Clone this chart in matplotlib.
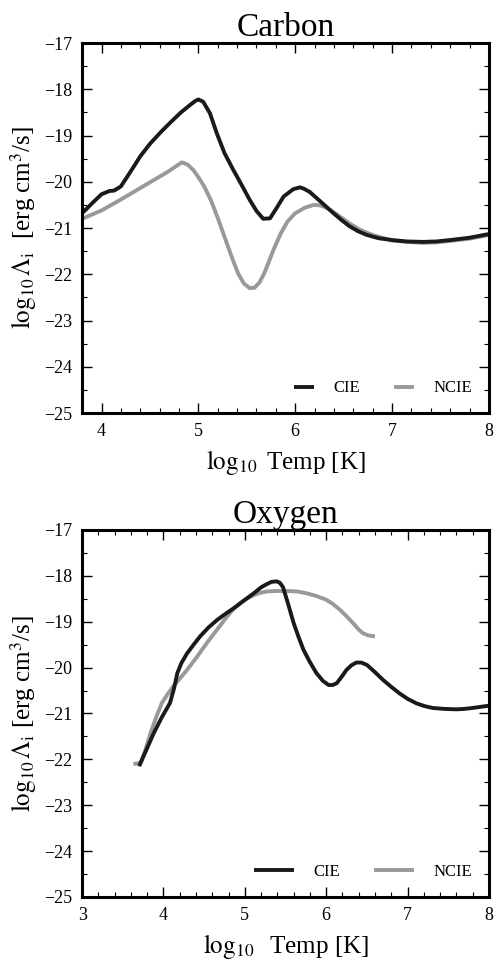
import numpy as np
import matplotlib
matplotlib.use("Agg")
import matplotlib.pyplot as plt
from matplotlib.ticker import MultipleLocator

plt.rcParams["font.family"] = ["Liberation Serif", "DejaVu Serif"]
plt.rcParams["mathtext.fontset"] = "stix"

# Carbon
c_cie_t = [3.80, 3.91, 4.00, 4.08, 4.13, 4.20, 4.30, 4.40, 4.50, 4.61, 4.72, 4.82, 4.92, 4.97, 5.00,
           5.05, 5.12, 5.19, 5.27, 5.36, 5.45, 5.53, 5.60, 5.67, 5.74, 5.81, 5.88, 5.98, 6.05,
           6.09, 6.15, 6.22, 6.30, 6.39, 6.48, 6.56, 6.65, 6.74, 6.86, 7.00, 7.15, 7.32, 7.46,
           7.60, 7.80, 8.00]
c_cie_v = [-20.68, -20.45, -20.27, -20.20, -20.19, -20.10, -19.78, -19.45, -19.18, -18.93, -18.70,
           -18.50, -18.33, -18.25, -18.22, -18.27, -18.52, -18.95, -19.38, -19.74, -20.08, -20.39, -20.63,
           -20.80, -20.79, -20.56, -20.32, -20.16, -20.12, -20.15, -20.22, -20.35, -20.50, -20.67,
           -20.83, -20.96, -21.07, -21.15, -21.22, -21.26, -21.29, -21.30, -21.29, -21.26, -21.21,
           -21.13]
c_ncie_t = [3.80, 4.00, 4.17, 4.34, 4.51, 4.68, 4.78, 4.83, 4.89, 4.95, 5.00, 5.06, 5.13, 5.20,
            5.27, 5.34, 5.41, 5.47, 5.53, 5.58, 5.63, 5.68, 5.72, 5.78, 5.85, 5.92, 6.00, 6.10,
            6.19, 6.26, 6.33, 6.40, 6.46, 6.56, 6.67, 6.80, 7.00, 7.15, 7.32, 7.46, 7.60, 7.80,
            8.00]
c_ncie_v = [-20.80, -20.62, -20.42, -20.21, -20.00, -19.79, -19.65, -19.58, -19.63, -19.75, -19.90,
            -20.10, -20.40, -20.78, -21.19, -21.60, -21.98, -22.20, -22.30, -22.29, -22.18, -21.98,
            -21.77, -21.45, -21.12, -20.86, -20.68, -20.56, -20.50, -20.51, -20.57, -20.66, -20.75,
            -20.90, -21.04, -21.15, -21.27, -21.30, -21.32, -21.31, -21.28, -21.23, -21.15]

# Oxygen
o_cie_t = [3.70, 3.79, 3.88, 3.98, 4.08, 4.13, 4.17, 4.22, 4.29, 4.37, 4.45, 4.55, 4.66, 4.76,
           4.86, 4.98, 5.11, 5.20, 5.27, 5.33, 5.39, 5.43, 5.47, 5.53, 5.60, 5.66, 5.72, 5.80,
           5.88, 5.96, 6.03, 6.08, 6.13, 6.19, 6.25, 6.31, 6.37, 6.43, 6.50, 6.60, 6.70, 6.80,
           6.90, 7.00, 7.11, 7.21, 7.31, 7.45, 7.60, 7.70, 7.80, 8.00]
o_cie_v = [-22.15, -21.79, -21.43, -21.08, -20.77, -20.45, -20.12, -19.90, -19.69, -19.50, -19.32,
           -19.13, -18.96, -18.83, -18.71, -18.55, -18.38, -18.25, -18.18, -18.13, -18.12, -18.15,
           -18.25, -18.60, -19.03, -19.33, -19.61, -19.88, -20.12, -20.29, -20.38, -20.38, -20.34,
           -20.20, -20.05, -19.95, -19.89, -19.89, -19.94, -20.10, -20.27, -20.42, -20.56, -20.68,
           -20.78, -20.84, -20.88, -20.90, -20.91, -20.90, -20.88, -20.83]
o_ncie_t = [3.63, 3.72, 3.78, 3.84, 3.91, 3.98, 4.05, 4.12, 4.20, 4.29, 4.41, 4.53, 4.66, 4.78,
            4.86, 4.94, 5.02, 5.11, 5.19, 5.27, 5.40, 5.51, 5.64, 5.76, 5.88, 6.00, 6.08, 6.17,
            6.25, 6.33, 6.40, 6.45, 6.52, 6.60]
o_ncie_v = [-22.10, -22.08, -21.78, -21.43, -21.08, -20.77, -20.58, -20.41, -20.24, -20.05,
            -19.77, -19.47, -19.17, -18.89, -18.72, -18.60, -18.50, -18.42, -18.37, -18.34, -18.33,
            -18.33, -18.34, -18.38, -18.44, -18.52, -18.61, -18.74, -18.88, -19.03, -19.17, -19.25,
            -19.30, -19.32]

panels = [
    ("Carbon", (3.8, 8), c_cie_t, c_cie_v, c_ncie_t, c_ncie_v,
     r"$\log_{10}\Lambda_{\rm i}$  [erg cm$^3$/s]", r"$\log_{10}$ Temp [K]", 1.25),
    ("Oxygen", (3, 8), o_cie_t, o_cie_v, o_ncie_t, o_ncie_v,
     r"$\log_{10}\Lambda_{\rm i}$ [erg cm$^3$/s]", r"$\log_{10}$  Temp [K]", 2.45),
]

fig = plt.figure(figsize=(5.04, 9.65), dpi=100)
boxes = [[0.163, 0.572, 0.807, 0.3834], [0.163, 0.0705, 0.807, 0.3803]]

for box, (name, xlim, t1, v1, t2, v2, ylab, xlab, hl) in zip(boxes, panels):
    ax = fig.add_axes(box)
    ax.plot(t2, v2, color="#999999", lw=2.8, label="NCIE", solid_capstyle="butt")
    ax.plot(t1, v1, color="#1a1a1a", lw=2.8, label="CIE", solid_capstyle="butt")
    ax.set_xlim(*xlim)
    ax.set_ylim(-25, -17)
    ax.xaxis.set_major_locator(MultipleLocator(1))
    ax.xaxis.set_minor_locator(MultipleLocator(0.2))
    ax.yaxis.set_major_locator(MultipleLocator(1))
    ax.yaxis.set_minor_locator(MultipleLocator(0.5))
    ax.tick_params(which="both", direction="in", top=True, right=True, labelsize=13, pad=7)
    ax.tick_params(which="major", length=7, width=1.0)
    ax.tick_params(which="minor", length=3.5, width=0.8)
    for sp in ax.spines.values():
        sp.set_linewidth(2.2)
    ax.set_title(name, fontsize=24, pad=4)
    ax.set_ylabel(ylab, fontsize=18, labelpad=4)
    ax.set_xlabel(xlab, fontsize=18, labelpad=6)
    h, l = ax.get_legend_handles_labels()
    ax.legend(h[::-1], l[::-1], loc="lower right", ncol=2, frameon=False, fontsize=12,
              handlelength=hl, columnspacing=2.0, handletextpad=1.15, borderaxespad=0.6)

fig.savefig("out.png", dpi=100)
